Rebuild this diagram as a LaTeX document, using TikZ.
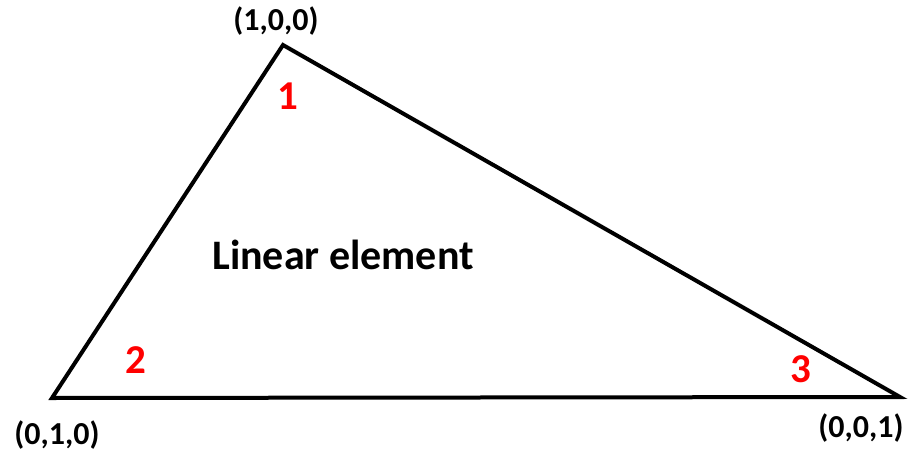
\documentclass[tikz,border=0pt]{standalone}
\usepackage{fontspec}
\setmainfont{Carlito}
\begin{document}
\begin{tikzpicture}[x=1pt,y=-1pt,
  edge/.style={line width=4pt,line join=miter,black},
  vlabel/.style={font=\bfseries\fontsize{32}{36}\selectfont,inner sep=0pt},
  nlabel/.style={font=\bfseries\fontsize{41}{46}\selectfont,text=red,inner sep=0pt},
  tlabel/.style={font=\bfseries\fontsize{42}{48}\selectfont,inner sep=0pt}]
\useasboundingbox (0,0) rectangle (910,455);
\coordinate (A) at (283,45);
\coordinate (B) at (52,398);
\coordinate (C) at (900,397);
\draw[edge] (A) -- (B) -- (C) -- cycle;
\node[vlabel] (lA) at (276,21) {(1,0,0)};
\node[vlabel] (lB) at (57,435) {(0,1,0)};
\node[vlabel] (lC) at (861,428) {(0,0,1)};
\node[nlabel] (n1) at (288,96) {1};
\node[nlabel] (n2) at (136,360) {2};
\node[nlabel] (n3) at (801,369) {3};
\node[tlabel] (t) at (343,255) {Linear element};
\end{tikzpicture}
\end{document}
